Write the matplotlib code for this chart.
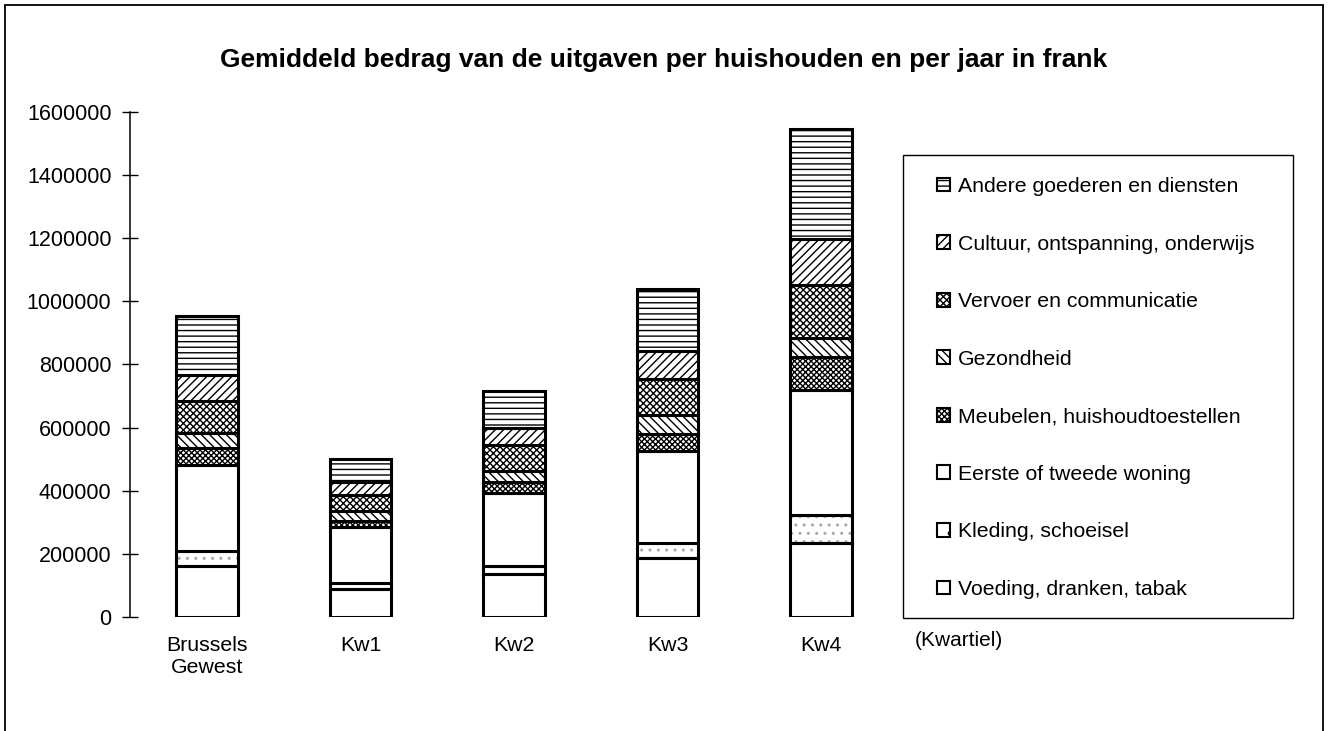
import matplotlib.pyplot as plt
from matplotlib.patches import Patch, Rectangle
import numpy as np

plt.rcParams['font.family'] = ['Liberation Sans', 'DejaVu Sans']
plt.rcParams['hatch.linewidth'] = 1.0

# Data (frank per household per year)
categories = ['Brussels\nGewest', 'Kw1', 'Kw2', 'Kw3', 'Kw4']
voeding = [160000, 90000, 135000, 187000, 234000]
kleding = [50000, 17000, 28000, 48000, 89000]
woning = [270000, 178000, 230000, 290000, 395000]
meubelen = [55000, 20000, 35000, 55000, 104000]
gezondheid = [48000, 32000, 33000, 60000, 63000]
vervoer = [100000, 50000, 83000, 115000, 168000]
cultuur = [85000, 42000, 54000, 87000, 145000]
andere = [185000, 71000, 117000, 198000, 348000]

series = [
    ('Voeding, dranken, tabak', voeding, ''),
    ('Kleding, schoeisel', kleding, '..'),
    ('Eerste of tweede woning', woning, ''),
    ('Meubelen, huishoudtoestellen', meubelen, 'xxxxxx'),
    ('Gezondheid', gezondheid, '\\\\\\\\'),
    ('Vervoer en communicatie', vervoer, 'xxxxx'),
    ('Cultuur, ontspanning, onderwijs', cultuur, '////'),
    ('Andere goederen en diensten', andere, '---'),
]

fig = plt.figure(figsize=(13.28, 7.31), dpi=100)
ax = fig.add_axes([0.098, 0.156, 0.578, 0.691])

x = np.arange(len(categories))
width = 0.4
bottom = np.zeros(len(categories))
handles = []
for label, vals, hatch in series:
    vals = np.array(vals, dtype=float)
    if label.startswith('Kleding'):
        # light speckle: grey hatch, then black outline on top
        ax.bar(x, vals, width, bottom=bottom, color='white', edgecolor='#a8a8a8',
               hatch=hatch, linewidth=0, zorder=2)
        ax.bar(x, vals, width, bottom=bottom, facecolor='none', edgecolor='black',
               linewidth=2.2, zorder=3)
        handles.append(Patch(facecolor='white', edgecolor='black', hatch='.',
                             linewidth=1.5, label=label))
    else:
        ax.bar(x, vals, width, bottom=bottom, color='white', edgecolor='black',
               hatch=hatch, linewidth=2.2, zorder=3)
        handles.append(Patch(facecolor='white', edgecolor='black', hatch=hatch,
                             linewidth=1.5, label=label))
    bottom += vals

ax.set_xlim(-0.5, 4.5)
ax.set_ylim(0, 1600000)
ax.set_yticks(np.arange(0, 1600001, 200000))
ax.yaxis.set_major_formatter(plt.FuncFormatter(lambda v, p: f'{int(v)}'))
ax.tick_params(axis='y', direction='inout', length=11, width=1, labelsize=15.5, pad=8)
ax.set_xticks(x)
ax.set_xticklabels(categories, fontsize=15.3)
ax.tick_params(axis='x', length=0, pad=14)
for s in ['top', 'right', 'bottom']:
    ax.spines[s].set_visible(False)
ax.spines['left'].set_linewidth(1.1)

fig.text(0.5, 0.918, 'Gemiddeld bedrag van de uitgaven per huishouden en per jaar in frank',
         ha='center', va='center', fontsize=19, fontweight='bold')
fig.text(915 / 1328, 1 - 640 / 731, '(Kwartiel)', ha='left', va='center', fontsize=15)

leg = fig.legend(handles=handles[::-1], loc='upper left',
                 bbox_to_anchor=(937 / 1328, 1 - 177 / 731),
                 frameon=False, fontsize=15.3,
                 handlelength=0.62, handleheight=0.62, handletextpad=0.35,
                 labelspacing=1.815, borderpad=0, borderaxespad=0)

# legend box
fig.patches.append(Rectangle((903 / 1328, 1 - 618 / 731), 390 / 1328, 463 / 731,
                             transform=fig.transFigure, fill=False,
                             edgecolor='black', linewidth=1.0))

# outer frame around the whole chart
fig.patches.append(Rectangle((5 / 1328, -0.05), 1318 / 1328, 1.05 - 5 / 731,
                             transform=fig.transFigure, fill=False,
                             edgecolor='black', linewidth=1.3))

fig.savefig('out.png', dpi=100)
